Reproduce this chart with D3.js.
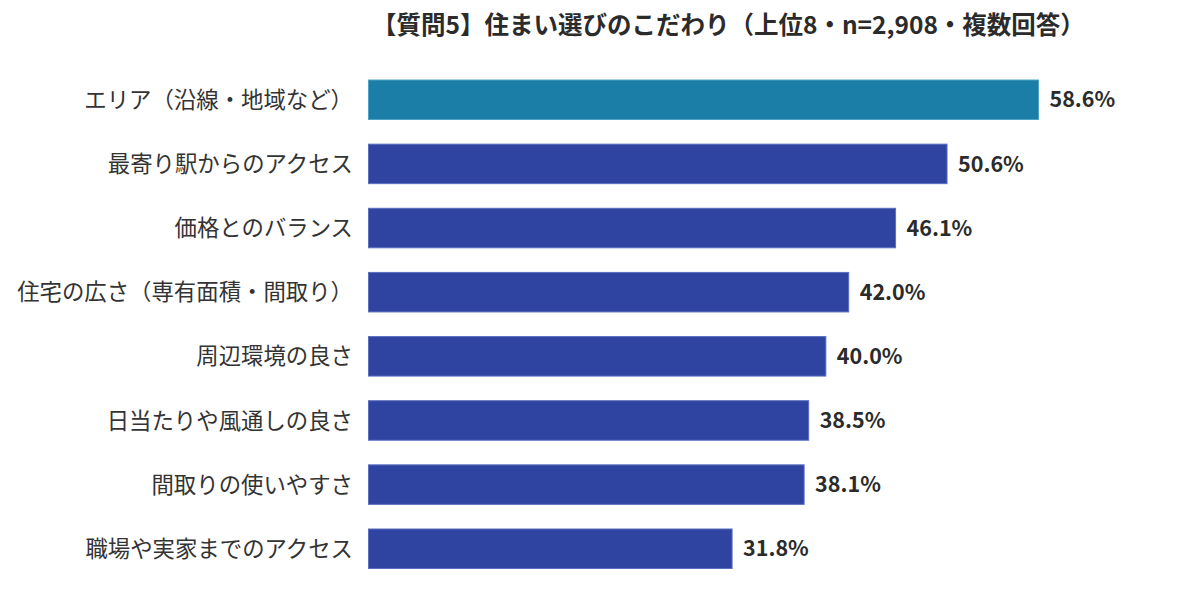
<!DOCTYPE html>
<html><head><meta charset="utf-8">
<script src="https://cdn.jsdelivr.net/npm/d3@7"></script>
<style>
html,body{margin:0;padding:0;background:#fff;}
svg{display:block;font-family:"Noto Sans CJK JP","Noto Sans",sans-serif;}
</style></head>
<body>
<script>
const title = "【質問5】住まい選びのこだわり（上位8・n=2,908・複数回答）";
const categories = ["エリア（沿線・地域など）","最寄り駅からのアクセス","価格とのバランス","住宅の広さ（専有面積・間取り）","周辺環境の良さ","日当たりや風通しの良さ","間取りの使いやすさ","職場や実家までのアクセス"];
const values = [58.6,50.6,46.1,42.0,40.0,38.5,38.1,31.8];
const labels = ["58.6%","50.6%","46.1%","42.0%","40.0%","38.5%","38.1%","31.8%"];

const W = 1200, H = 608;
const svg = d3.select("body").append("svg").attr("width", W).attr("height", H);

const x = d3.scaleLinear().domain([0, 58.6]).range([368.5, 1038.5]);
const y = d3.scaleBand().domain(categories).range([80, 568.5]).paddingInner(0.384).paddingOuter(0);

svg.append("text").attr("x", 372).attr("y", 34)
  .attr("font-size", 24.5).attr("font-weight", 700).attr("fill", "#2b2b2b")
  .text(title);

const g = svg.append("g");
g.selectAll("rect").data(categories).join("rect")
  .attr("x", x(0)).attr("y", d => y(d))
  .attr("width", (d,i) => x(values[i]) - x(0))
  .attr("height", y.bandwidth())
  .attr("fill", (d,i) => i === 0 ? "#1a7ea6" : "#2e44a0")
  .attr("stroke", (d,i) => i === 0 ? "#4ea3c6" : "#5a6fc0")
  .attr("stroke-width", 1);

g.selectAll("text.cat").data(categories).join("text").attr("class","cat")
  .attr("x", 353).attr("y", d => y(d) + y.bandwidth()/2)
  .attr("dy", "0.36em").attr("text-anchor", "end")
  .attr("font-size", 22.4).attr("fill", "#333")
  .text(d => d);

g.selectAll("text.val").data(categories).join("text").attr("class","val")
  .attr("x", (d,i) => x(values[i]) + 11).attr("y", d => y(d) + y.bandwidth()/2)
  .attr("dy", "0.36em")
  .attr("font-size", 21.5).attr("font-weight", 700).attr("fill", "#2b2b2b")
  .text((d,i) => labels[i]);
</script>
</body></html>
